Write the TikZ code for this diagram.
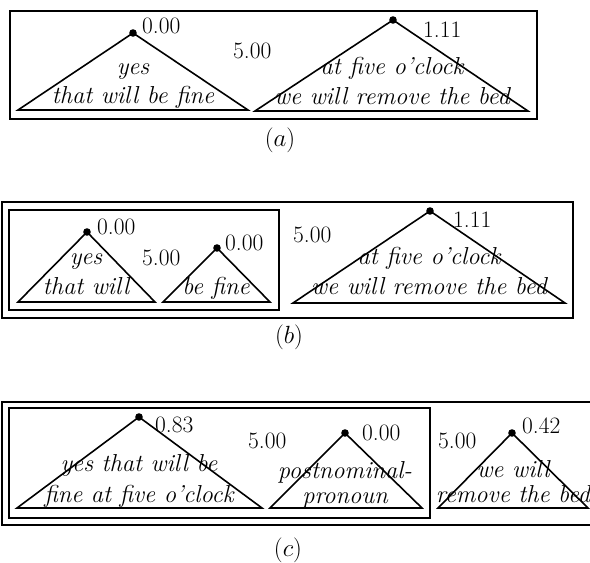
\documentclass[tikz,border=0pt]{standalone}
\begin{document}
\begin{tikzpicture}[x=1pt,y=-1pt,
  tri/.style={line width=1.6pt, line join=miter},
  box/.style={line width=1.5pt},
  txt/.style={font=\fontsize{24.5}{28}\selectfont\itshape, inner sep=0pt, anchor=base},
  num/.style={font=\fontsize{23.5}{28}\selectfont, inner sep=0pt, anchor=base west},
  capt/.style={font=\fontsize{23.5}{28}\selectfont, inner sep=0pt, anchor=base},
  apexdot/.style={fill=black}]
\useasboundingbox (0,0) rectangle (590,563);
\clip (0,0) rectangle (590,563);
\fill[white] (0,0) rectangle (590,563);

% ---------- panel (a)
\draw[box] (10,11) rectangle (537,119);
\coordinate (a1t) at (133,33); \coordinate (a1l) at (18,110); \coordinate (a1r) at (248,110);
\coordinate (a2t) at (393,20); \coordinate (a2l) at (255,111); \coordinate (a2r) at (528,111);
\draw[tri] (a1l) -- (a1t) -- (a1r) -- cycle;
\draw[tri] (a2l) -- (a2t) -- (a2r) -- cycle;
\fill[apexdot] (a1t) circle[radius=3.8pt];
\fill[apexdot] (a2t) circle[radius=3.8pt];
\node[num] (an1) at (142,33) {0.00};
\node[num] (an2) at (233,58) {5.00};
\node[num] (an3) at (423,37) {1.11};
\node[txt] (at1) at (133,74) {yes};
\node[txt] (at2) at (133,103) {that will be fine};
\node[txt] (at3) at (392,74) {at five o'clock};
\node[txt] (at4) at (392,104) {we will remove the bed};
\node[capt] (acap) at (280,146) {$(a)$};

% ---------- panel (b)
\draw[box] (2,202) rectangle (573,318);
\draw[box] (9,210) rectangle (279,310);
\coordinate (b1t) at (87,232); \coordinate (b1l) at (18,302); \coordinate (b1r) at (155,302);
\coordinate (b2t) at (217,248); \coordinate (b2l) at (163,302); \coordinate (b2r) at (270,302);
\coordinate (b3t) at (430,211); \coordinate (b3l) at (293,303); \coordinate (b3r) at (565,303);
\draw[tri] (b1l) -- (b1t) -- (b1r) -- cycle;
\draw[tri] (b2l) -- (b2t) -- (b2r) -- cycle;
\draw[tri] (b3l) -- (b3t) -- (b3r) -- cycle;
\fill[apexdot] (b1t) circle[radius=3.8pt];
\fill[apexdot] (b2t) circle[radius=3.8pt];
\fill[apexdot] (b3t) circle[radius=3.8pt];
\node[num] (bn1) at (97,234) {0.00};
\node[num] (bn2) at (142,265) {5.00};
\node[num] (bn3) at (225,250) {0.00};
\node[num] (bn4) at (293,242) {5.00};
\node[num] (bn5) at (453,227) {1.11};
\node[txt] (bt1) at (86,264) {yes};
\node[txt] (bt2) at (86,294) {that will};
\node[txt] (bt3) at (216,294) {be fine};
\node[txt] (bt4) at (429,264) {at five o'clock};
\node[txt] (bt5) at (429,294) {we will remove the bed};
\node[capt] (bcap) at (289,343) {$(b)$};

% ---------- panel (c)
\draw[box] (2,402) rectangle (600,525);
\draw[box] (9,408) rectangle (430,518);
\coordinate (c1t) at (139,417); \coordinate (c1l) at (17,508); \coordinate (c1r) at (262,508);
\coordinate (c2t) at (345,433); \coordinate (c2l) at (270,508); \coordinate (c2r) at (422,508);
\coordinate (c3t) at (512,433); \coordinate (c3l) at (438,508); \coordinate (c3r) at (588,508);
\draw[tri] (c1l) -- (c1t) -- (c1r) -- cycle;
\draw[tri] (c2l) -- (c2t) -- (c2r) -- cycle;
\draw[tri] (c3l) -- (c3t) -- (c3r) -- cycle;
\fill[apexdot] (c1t) circle[radius=3.8pt];
\fill[apexdot] (c2t) circle[radius=3.8pt];
\fill[apexdot] (c3t) circle[radius=3.8pt];
\node[num] (cn1) at (155,432) {0.83};
\node[num] (cn2) at (248,448) {5.00};
\node[num] (cn3) at (362,440) {0.00};
\node[num] (cn4) at (438,448) {5.00};
\node[num] (cn5) at (522,433) {0.42};
\node[txt] (ct1) at (139,471) {yes that will be};
\node[txt] (ct2) at (139,502) {fine at five o'clock};
\node[txt] (ct3) at (345,478) {postnominal-};
\node[txt] (ct4) at (345,503) {pronoun};
\node[txt] (ct5) at (513,477) {we will};
\node[txt] (ct6) at (513,502) {remove the bed};
\node[capt] (ccap) at (288,556) {$(c)$};
\end{tikzpicture}
\end{document}
